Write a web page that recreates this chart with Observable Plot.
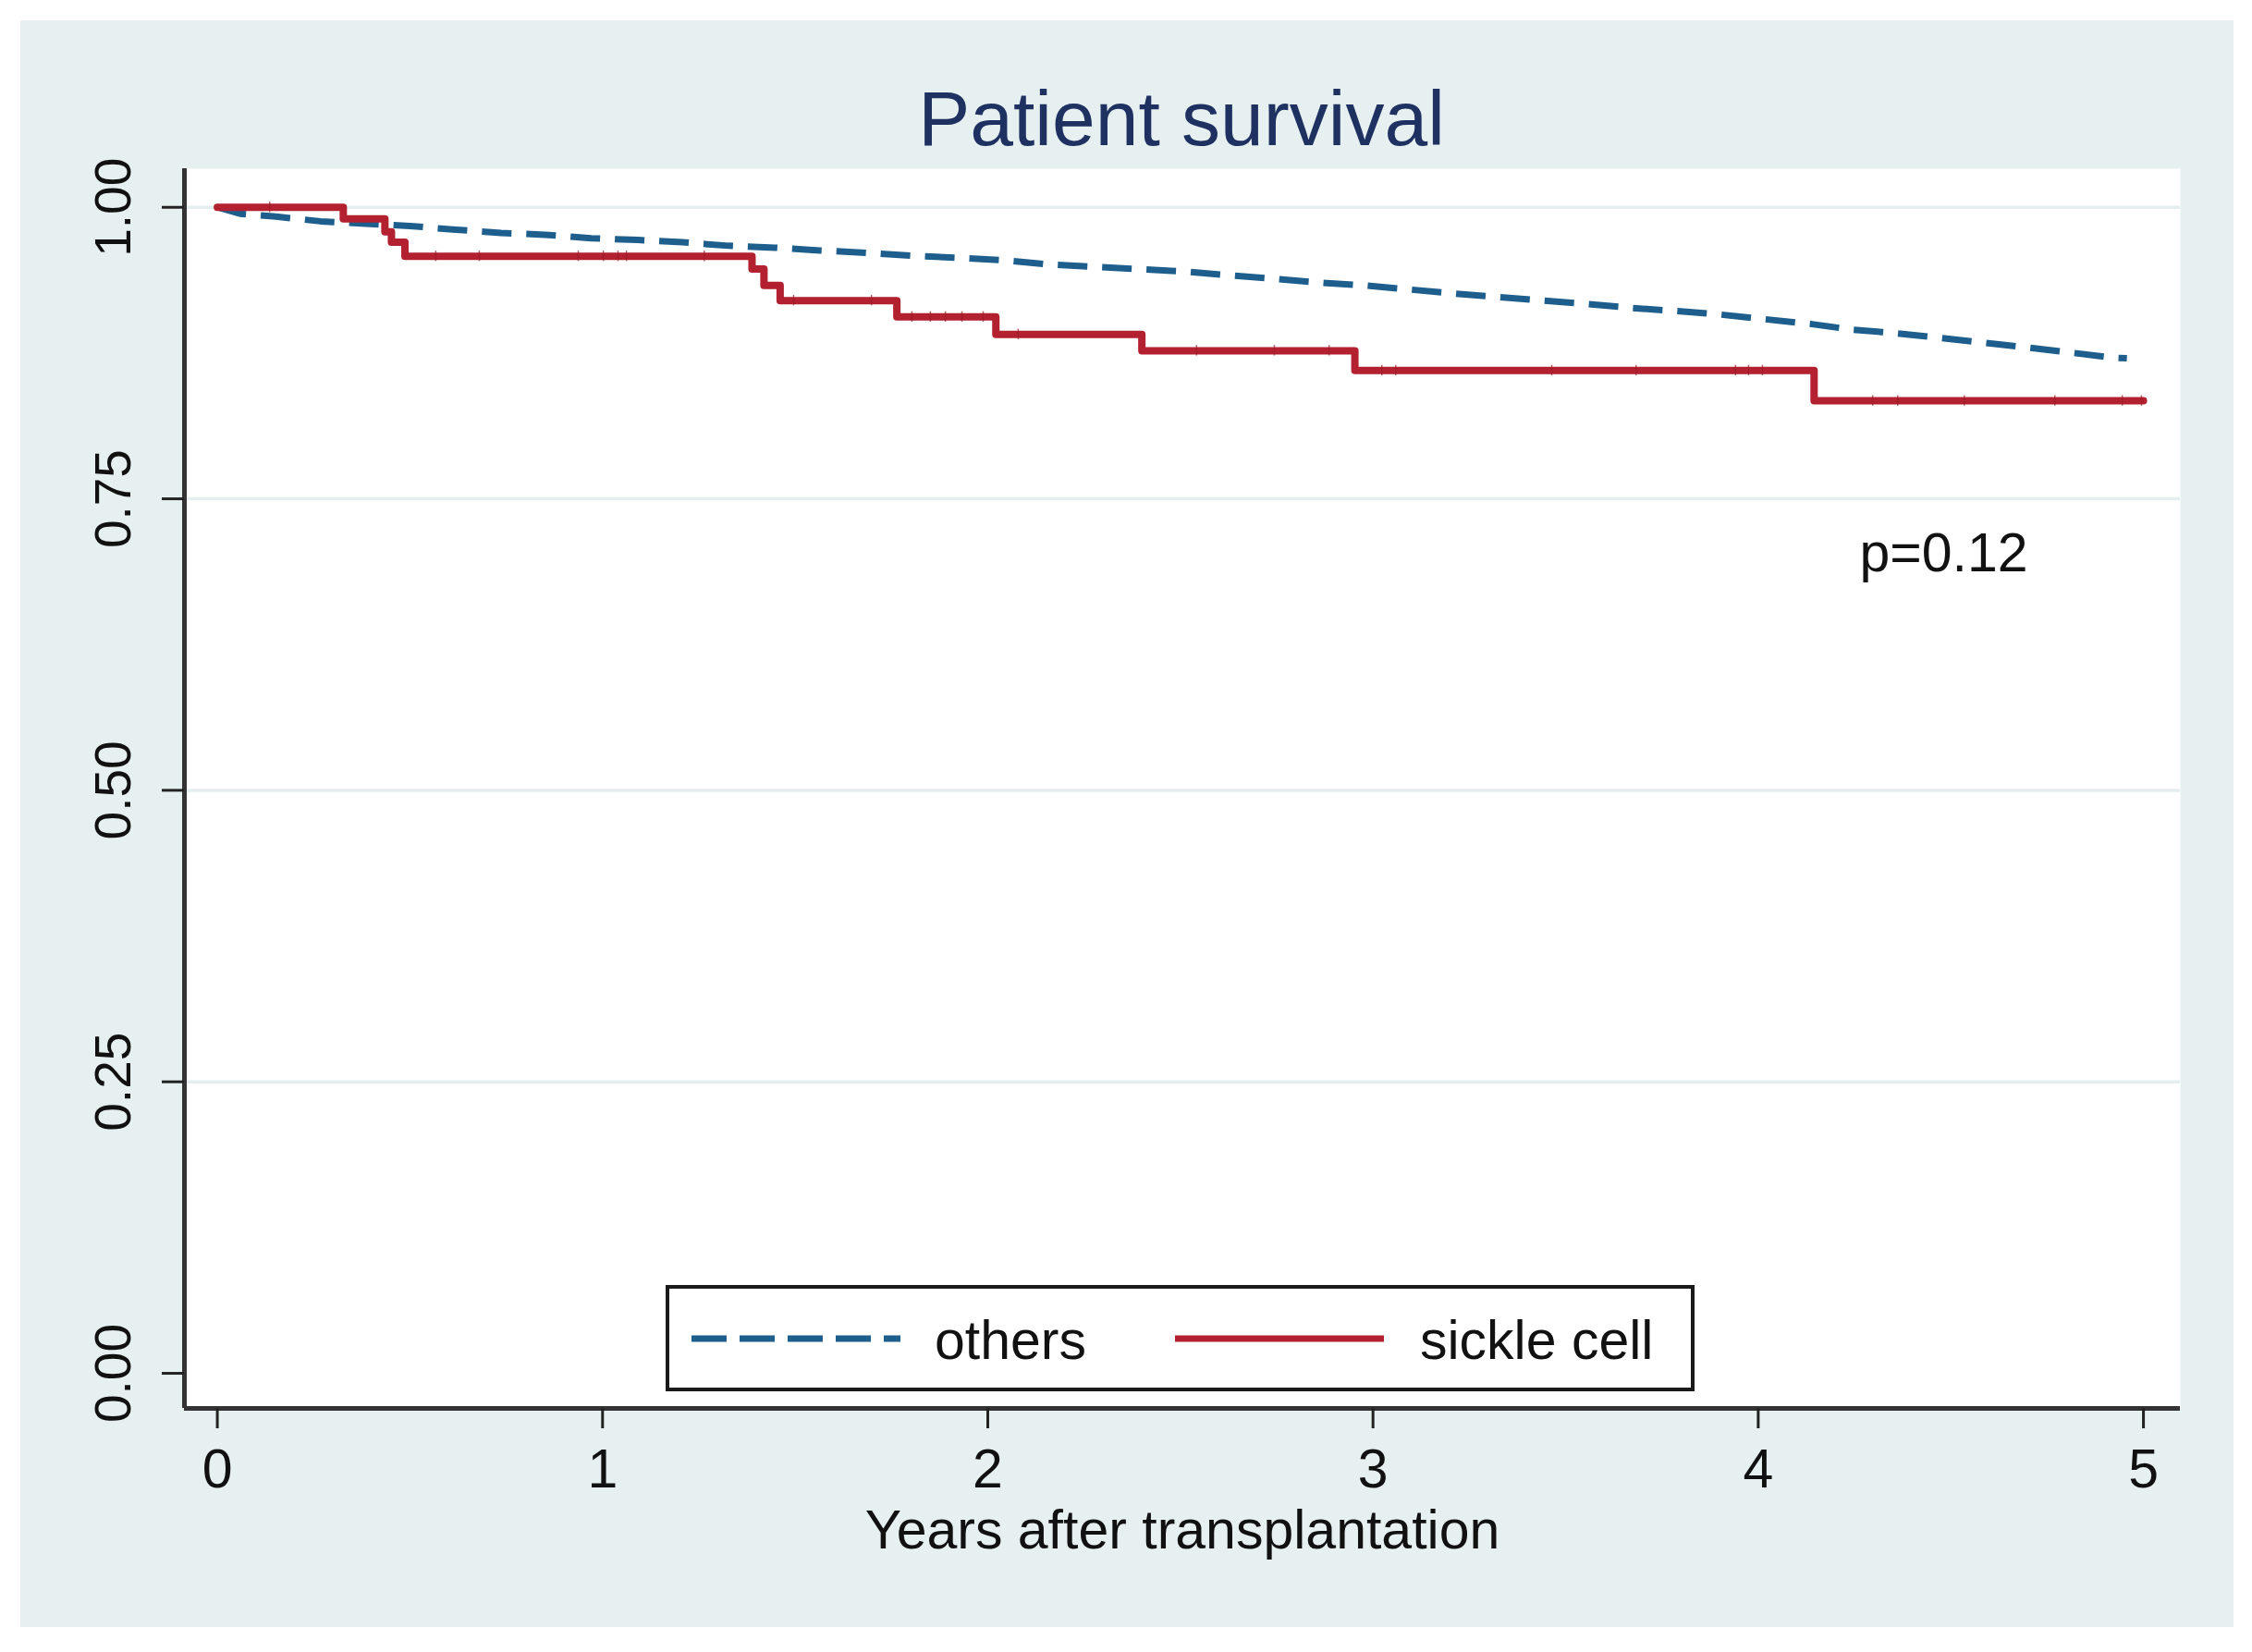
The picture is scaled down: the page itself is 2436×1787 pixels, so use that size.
<!DOCTYPE html>
<html>
<head>
<meta charset="utf-8">
<script src="https://cdn.jsdelivr.net/npm/d3@7"></script>
<script src="https://cdn.jsdelivr.net/npm/@observablehq/plot@0.6"></script>
<style>
  html, body { margin: 0; padding: 0; background: #ffffff; }
  body { width: 2436px; height: 1787px; position: relative; overflow: hidden;
         font-family: "Liberation Sans", Arial, Helvetica, sans-serif; }
  #panel { position: absolute; left: 22px; top: 22px; width: 2394px; height: 1738px; background: #e7f0f1; }
  #title { position: absolute; left: 1256px; top: 64px; transform: translateX(-50%);
           font-size: 84px; line-height: 1; color: #1e3160; white-space: nowrap; }
  #chart { position: absolute; left: 0; top: 110px; }
  #legend { position: absolute; left: 698px; top: 1368px; width: 1113px; height: 115px; }
  #legend svg { display: block; overflow: visible; }
</style>
</head>
<body>
<div id="panel">
  <div id="title"></div>
  <div id="chart"></div>
  <div id="legend"></div>
</div>
<script>
// ---------------- data ----------------
const titleText = "Patient survival";
const xTitle = "Years after transplantation";
const seriesNames = ["others", "sickle cell"];
const xTicks = [0, 1, 2, 3, 4, 5];
const yTicks = [0, 0.25, 0.5, 0.75, 1];
const gridValues = [0.25, 0.5, 0.75, 1];

// sickle cell: Kaplan-Meier step function (time of each step, survival after it)
const sickleTime = [0, 0.327, 0.435, 0.452, 0.487, 1.388, 1.419, 1.461, 1.764, 2.021, 2.400, 2.953, 4.145, 5.0];
const sickleSurv = [1.000, 0.990, 0.979, 0.970, 0.958, 0.947, 0.933, 0.920, 0.906, 0.891, 0.877, 0.860, 0.834, 0.834];
// censoring marks on the sickle cell curve
const sickleCensor = [0.136, 0.567, 0.68, 0.937, 1.002, 1.04, 1.062, 1.264, 1.496, 1.698, 1.803, 1.851, 1.890,
                      1.933, 1.988, 2.079, 2.542, 2.744, 2.886, 3.023, 3.059, 3.464, 3.683, 3.941, 3.975, 4.011,
                      4.297, 4.362, 4.535, 4.770, 4.945, 4.995];

// others: large group, curve read at regular points
const othersTime = [0, 0.059, 0.152, 0.268, 0.385, 0.50, 0.611, 0.736, 0.851, 0.971, 1.091, 1.207, 1.328, 1.448,
                    1.564, 1.683, 1.803, 1.923, 2.040, 2.160, 2.273, 2.391, 2.509, 2.628, 2.744, 2.859, 2.978,
                    3.096, 3.210, 3.325, 3.443, 3.559, 3.674, 3.790, 3.903, 4.018, 4.135, 4.246, 4.357, 4.472,
                    4.583, 4.695, 4.809, 4.923, 4.957];
const othersSurv = [1.000, 0.9945, 0.992, 0.988, 0.986, 0.984, 0.981, 0.978, 0.9765, 0.9735, 0.972, 0.970, 0.967,
                    0.9654, 0.963, 0.961, 0.9585, 0.9567, 0.9546, 0.951, 0.949, 0.947, 0.945, 0.9416, 0.9387,
                    0.9355, 0.933, 0.9295, 0.926, 0.923, 0.920, 0.917, 0.9136, 0.911, 0.908, 0.904, 0.900,
                    0.895, 0.892, 0.888, 0.884, 0.880, 0.8755, 0.871, 0.8705];

const annotations = [{x: 4.263, y: 0.688, label: "p=0.12"}];

// ---------------- styling ----------------
const blue = "#1d5e8c";
const red = "#b3202f";
const axisColor = "#333333";
const font = '"Liberation Sans", Arial, Helvetica, sans-serif';

// tables built from the arrays
const sickle = sickleTime.map((t, i) => ({t, s: sickleSurv[i]}));
const others = othersTime.map((t, i) => ({t, s: othersSurv[i]}));
function survAt(t) { let s = 1; for (let i = 0; i < sickleTime.length; i++) if (sickleTime[i] <= t) s = sickleSurv[i]; return s; }
const censor = sickleCensor.map(t => ({t, s: survAt(t)}));

const xDomain = [-0.0854, 5.0958];
const yDomain = [-0.0301, 1.0331];

document.getElementById("title").textContent = titleText;

const chart = Plot.plot({
  width: 2394,
  height: 1628,
  marginLeft: 177,
  marginRight: 58,
  marginTop: 50,
  marginBottom: 237,
  style: {background: "transparent", overflow: "visible", fontFamily: font},
  x: {domain: xDomain},
  y: {domain: yDomain},
  marks: [
    Plot.frame({fill: "white", stroke: null}),
    Plot.ruleY(gridValues, {stroke: "#e4eeef", strokeWidth: 3.5}),
    Plot.line(others, {x: "t", y: "s", stroke: blue, strokeWidth: 7, strokeDasharray: "32,16", strokeLinecap: "butt"}),
    Plot.line(sickle, {x: "t", y: "s", curve: "step-after", stroke: red, strokeWidth: 8}),
    Plot.ruleX(censor, {x: "t", y1: d => d.s + 0.0045, y2: d => d.s - 0.0045, stroke: "#9a1c28", strokeWidth: 1.5, strokeOpacity: 0.7}),
    Plot.ruleX([xDomain[0]], {stroke: axisColor, strokeWidth: 5}),
    Plot.ruleY([yDomain[0]], {stroke: axisColor, strokeWidth: 5}),
    Plot.axisX({ticks: xTicks, tickSize: 22, tickPadding: 22, fontSize: 59, stroke: "#222", strokeWidth: 3,
                fill: "#111", label: null, tickFormat: d => String(d)}),
    Plot.axisY({ticks: yTicks, tickSize: 24, tickFormat: () => "", stroke: "#222", strokeWidth: 3, label: null}),
    Plot.text(yTicks, {y: d => d, text: d => d.toFixed(2), frameAnchor: "left", dx: -59, rotate: -90,
                       textAnchor: "middle", lineAnchor: "bottom", fontSize: 55, fill: "#111"}),
    Plot.text(annotations, {x: "x", y: "y", text: "label", textAnchor: "start", lineAnchor: "bottom",
                            fontSize: 59, fill: "#111"}),
    Plot.text([xTitle], {text: d => d, frameAnchor: "bottom", dy: 151, lineAnchor: "bottom", fontSize: 59, fill: "#111"})
  ]
});
document.getElementById("chart").appendChild(chart);

// ---------------- legend ----------------
const ns = "http://www.w3.org/2000/svg";
const lg = document.createElementNS(ns, "svg");
lg.setAttribute("width", 1113); lg.setAttribute("height", 115);
lg.setAttribute("font-family", font);
function el(tag, attrs, text) {
  const e = document.createElementNS(ns, tag);
  for (const k in attrs) e.setAttribute(k, attrs[k]);
  if (text) e.textContent = text;
  lg.appendChild(e);
  return e;
}
el("rect", {x: 2, y: 2, width: 1109, height: 111, fill: "white", stroke: "#1a1a1a", "stroke-width": 4});
el("line", {x1: 28, x2: 254, y1: 58, y2: 58, stroke: blue, "stroke-width": 7, "stroke-dasharray": "38,14"});
el("text", {x: 291, y: 80, "font-size": 59, fill: "#111"}, seriesNames[0]);
el("line", {x1: 551, x2: 777, y1: 58, y2: 58, stroke: red, "stroke-width": 7});
el("text", {x: 816, y: 80, "font-size": 59, fill: "#111"}, seriesNames[1]);
document.getElementById("legend").appendChild(lg);
</script>
</body>
</html>
